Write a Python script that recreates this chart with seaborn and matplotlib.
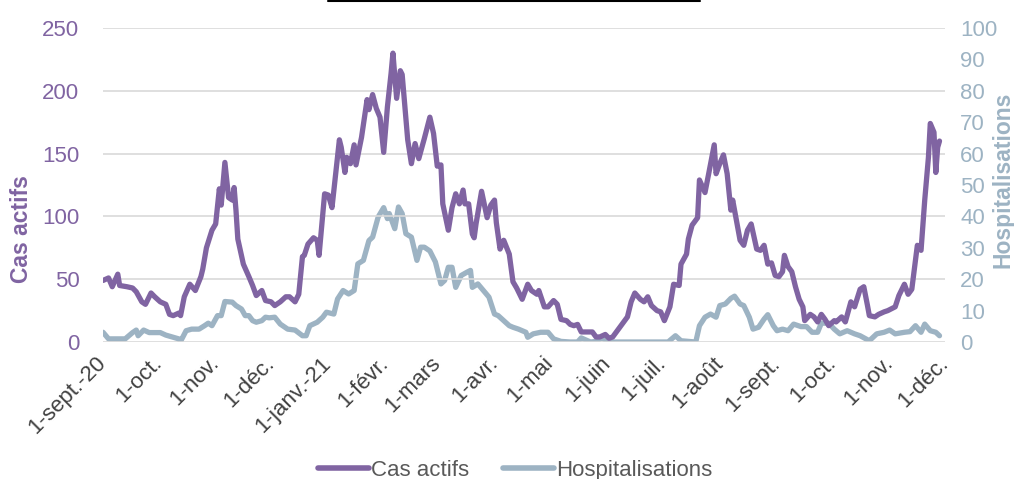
import pandas as pd
import matplotlib.pyplot as plt
import seaborn as sns
from matplotlib.lines import Line2D

# Days counted from 1 Sept 2020
cas_jours = [0, 3, 5, 8, 9, 13, 16, 18, 21, 23, 26, 28, 31, 34, 36, 38, 41, 42, 44, 47,
             50, 53, 54, 56, 59, 61, 63, 64, 66, 68, 70, 71, 72, 73, 76, 79, 81, 83, 86, 88,
             91, 93, 96, 99, 101, 104, 106, 108, 109, 111, 114, 116, 117, 120, 122, 124, 128, 129, 131, 132,
             134, 136, 137, 140, 143, 144, 146, 148, 150, 152, 154, 156, 157, 159, 161, 162, 165, 167, 169, 171,
             174, 177, 179, 181, 183, 184, 187, 189, 191, 193, 195, 196, 198, 200, 201, 202, 205, 208, 210, 212,
             213, 215, 217, 220, 222, 224, 227, 230, 232, 235, 236, 239, 241, 244, 246, 248, 251, 253, 255, 257,
             259, 262, 265, 267, 269, 272, 274, 276, 279, 282, 284, 286, 288, 291, 293, 295, 297, 300, 302, 304,
             307, 309, 312, 313, 316, 317, 319, 322, 323, 326, 328, 331, 332, 334, 336, 338, 340, 341, 343, 345,
             347, 349, 351, 354, 356, 358, 360, 362, 364, 366, 368, 369, 371, 373, 375, 377, 379, 380, 383, 385,
             387, 389, 391, 393, 396, 397, 400, 402, 405, 407, 410, 412, 414, 415, 418, 420, 423, 425, 429, 431,
             434, 436, 438, 441, 443, 445, 447, 448, 450, 451, 452, 453]
cas_actifs = [49, 51, 44, 54, 45, 44, 43, 40, 32, 30, 39, 36, 32, 30, 22, 21, 23, 21, 36, 46,
              41, 52, 58, 75, 89, 94, 122, 109, 143, 115, 113, 123, 105, 82, 62, 52, 45, 37, 41, 33,
              32, 29, 32, 36, 36, 32, 38, 68, 69, 78, 83, 81, 69, 118, 117, 107, 161, 155, 135, 147,
              142, 157, 141, 163, 193, 185, 197, 186, 179, 151, 187, 214, 230, 194, 216, 213, 161, 142, 158, 146,
              162, 179, 166, 140, 141, 110, 89, 107, 118, 110, 121, 110, 110, 86, 83, 94, 120, 99, 109, 113,
              95, 74, 81, 70, 48, 43, 34, 46, 41, 38, 41, 28, 28, 33, 30, 18, 17, 14, 13, 14,
              8, 8, 8, 4, 4, 6, 3, 4, 10, 16, 20, 32, 39, 34, 32, 36, 29, 25, 24, 17,
              28, 46, 45, 62, 70, 82, 93, 99, 129, 119, 134, 157, 134, 142, 149, 134, 105, 113, 97, 81,
              77, 89, 94, 74, 73, 77, 62, 63, 53, 52, 56, 69, 60, 56, 44, 34, 28, 17, 22, 20,
              16, 22, 18, 13, 17, 16, 20, 16, 32, 28, 42, 44, 29, 21, 20, 22, 24, 25, 28, 37,
              46, 38, 42, 77, 73, 113, 147, 174, 167, 135, 155, 160]

hosp_jours = [0, 3, 6, 12, 16, 18, 19, 22, 25, 31, 34, 37, 41, 42, 45, 48, 52, 55, 57, 59,
              62, 64, 66, 70, 72, 75, 77, 79, 81, 83, 86, 88, 90, 93, 96, 100, 104, 108, 110, 112,
              116, 119, 121, 125, 127, 130, 133, 136, 138, 141, 144, 146, 149, 152, 154, 155, 158, 160, 162, 164,
              167, 170, 172, 174, 177, 180, 183, 185, 187, 189, 191, 194, 197, 199, 200, 203, 206, 209, 212, 214,
              217, 220, 222, 225, 229, 230, 233, 237, 241, 244, 248, 253, 257, 259, 264, 267, 270, 273, 275, 306,
              310, 313, 321, 323, 326, 329, 332, 334, 337, 340, 342, 345, 347, 350, 352, 355, 358, 360, 363, 365,
              368, 371, 374, 378, 381, 384, 387, 389, 393, 396, 399, 403, 407, 410, 415, 419, 423, 426, 429, 434,
              437, 440, 443, 445, 448, 451, 453]
hospitalisations = [3.1, 1, 1, 1, 3, 3.8, 2, 3.8, 3, 3, 2.2, 1.7, 1, 0.2, 3.6, 4.1, 4.1, 5.2, 6, 5.2,
                    8.4, 8.4, 12.9, 12.7, 11.6, 10.5, 8.4, 8.4, 6.8, 6.3, 6.8, 7.9, 7.7, 7.9, 5.7, 4.1, 3.8, 2, 2, 5.2,
                    6.3, 7.9, 9.5, 8.9, 13.7, 16.4, 15.3, 16.4, 24.9, 26, 32.3, 33.4, 39.8, 42.8, 39.3, 40.9, 36.1, 43, 40.9, 34.5,
                    33.4, 26, 30.2, 30.2, 29, 25.5, 18.5, 19.6, 23.8, 23.8, 17.4, 21.2, 22.2, 22.8, 17.4, 18.5, 16.4, 14.3, 8.9, 8.4,
                    6.8, 5.2, 4.7, 4.1, 3.1, 1.5, 2.6, 3.1, 3.1, 1, 0.2, 0, 0, 1.3, 0, 0.2, 1.3, 0.4, 0, 0,
                    2, 0.4, 0, 5.2, 7.9, 8.9, 7.9, 11.6, 12.1, 13.9, 14.6, 12.1, 11.6, 7.9, 4.1, 4.7, 7.3, 8.7, 5.2, 3.6,
                    4.1, 3.6, 5.7, 4.9, 4.9, 3.1, 3.1, 6, 6, 4.1, 2.6, 3.6, 2.6, 2, 0.4, 2.6, 3.1, 3.8, 2.6, 3.1,
                    3.3, 5.2, 3.1, 5.7, 3.6, 3.1, 2]

mois = ["2020-09-01", "2020-10-01", "2020-11-01", "2020-12-01", "2021-01-01", "2021-02-01",
        "2021-03-01", "2021-04-01", "2021-05-01", "2021-06-01", "2021-07-01", "2021-08-01",
        "2021-09-01", "2021-10-01", "2021-11-01", "2021-12-01"]
mois_labels = ["1-sept.-20", "1-oct.", "1-nov.", "1-déc.", "1-janv.-21", "1-févr.", "1-mars",
               "1-avr.", "1-mai", "1-juin", "1-juil.", "1-août", "1-sept.", "1-oct.", "1-nov.", "1-déc."]

start = pd.Timestamp("2020-09-01")
cas_df = pd.DataFrame({"date": start + pd.to_timedelta(cas_jours, unit="D"), "valeur": cas_actifs})
hosp_df = pd.DataFrame({"date": start + pd.to_timedelta(hosp_jours, unit="D"), "valeur": hospitalisations})

violet = "#8064a2"
gris_bleu = "#9db3c3"

sns.set_theme(style="white")
plt.rcParams["font.family"] = ["Liberation Sans", "DejaVu Sans"]

fig, ax = plt.subplots(figsize=(10.14, 4.79), dpi=100)
fig.subplots_adjust(left=0.1016, right=0.932, top=0.9415, bottom=0.286)
ax2 = ax.twinx()

sns.lineplot(data=cas_df, x="date", y="valeur", ax=ax, color=violet, linewidth=3.8, zorder=3)
sns.lineplot(data=hosp_df, x="date", y="valeur", ax=ax2, color=gris_bleu, linewidth=3.8, zorder=2)
ax.set_zorder(ax2.get_zorder() + 1)
ax.patch.set_visible(False)

ax.set_ylim(0, 250)
ax.set_yticks(range(0, 251, 50))
ax2.set_ylim(0, 100)
ax2.set_yticks(range(0, 101, 10))
ax.set_xlim(pd.Timestamp("2020-09-01"), pd.Timestamp("2021-12-01"))
ax.set_xticks(pd.to_datetime(mois))
ax.set_xticklabels(mois_labels, rotation=45, ha="right", va="center", rotation_mode="anchor")

ax.grid(axis="y", color="#d9d9d9", linewidth=1.2)
ax.grid(axis="x", visible=False)
ax2.grid(False)
for a in (ax, ax2):
    for s in a.spines.values():
        s.set_visible(False)

ax.tick_params(axis="y", length=0, pad=17, labelsize=16, labelcolor=violet)
ax.tick_params(axis="x", length=0, pad=13, labelsize=16, labelcolor="#404040")
ax2.tick_params(axis="y", length=0, pad=11, labelsize=16, labelcolor=gris_bleu)

ax.set_xlabel("")
ax.set_ylabel("Cas actifs", fontsize=16.5, fontweight="bold", color=violet)
ax2.set_ylabel("Hospitalisations", fontsize=16.5, fontweight="bold", color=gris_bleu, rotation=90)
ax.yaxis.set_label_coords(-0.097, 0.36)
ax2.yaxis.set_label_coords(1.069, 0.515)
ax.yaxis.label.set_va("center")
ax2.yaxis.label.set_va("center")

handles = [Line2D([], [], color=violet, linewidth=4), Line2D([], [], color=gris_bleu, linewidth=4)]
fig.legend(handles, ["Cas actifs", "Hospitalisations"], loc="center", bbox_to_anchor=(0.508, 0.018),
           ncol=2, frameon=False, fontsize=16, labelcolor="#595959", handlelength=2.3,
           handletextpad=0.1, columnspacing=1.5)

# trait noir coupé en haut de l'image
fig.add_artist(Line2D([328 / 1014, 700 / 1014], [0.997, 0.997], color="black", linewidth=1.5))

fig.savefig("out.png", dpi=100)
